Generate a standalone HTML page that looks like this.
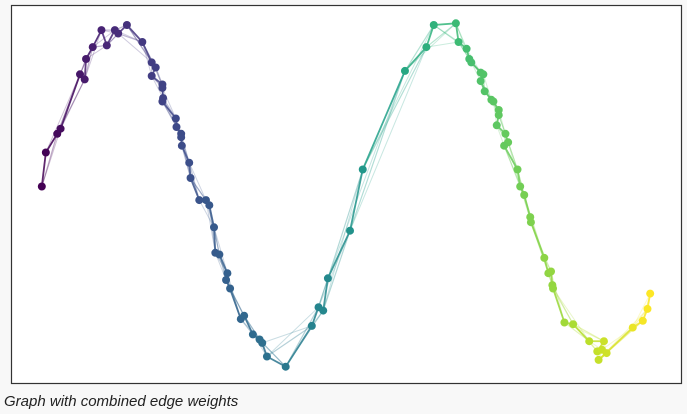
<!DOCTYPE html>
<html><head><meta charset="utf-8">
<style>
html,body{margin:0;padding:0;background:#f8f8f8;width:687px;height:414px;overflow:hidden}
#chart{position:absolute;left:0;top:0}
.cap{position:absolute;left:4px;top:393px;font:italic 15px "Liberation Sans",sans-serif;color:#222}
</style></head><body>
<svg id="chart" width="687" height="390">
<rect x="11.5" y="5.5" width="670" height="378" fill="#fff" stroke="#333" stroke-width="1.2"/>
<g id="edges"></g>
<g id="nodes"></g>
</svg>
<div class="cap">Graph with combined edge weights</div>
<script>
const nodeX=[0.46,0.52,0.69,0.74,1.03,1.10,1.12,1.22,1.35,1.43,1.55,1.60,1.73,1.96,2.10,2.16,2.10,2.26,2.26,2.27,2.26,2.46,2.47,2.54,2.54,2.55,2.66,2.68,2.81,2.91,2.96,3.03,3.05,3.11,3.23,3.21,3.27,3.43,3.48,3.61,3.71,3.75,3.82,4.10,4.49,4.59,4.66,4.73,5.06,5.25,5.88,6.20,6.31,6.64,6.68,6.80,6.84,6.87,7.01,7.05,7.01,7.07,7.17,7.20,7.28,7.28,7.25,7.38,7.42,7.36,7.56,7.60,7.66,7.75,7.76,7.96,8.02,8.06,8.08,8.09,8.26,8.39,8.63,8.85,8.75,8.82,8.89,8.77,9.28,9.43,9.50,9.54];
const nodeY=[0.05,0.25,0.36,0.39,0.71,0.68,0.80,0.87,0.97,0.88,0.97,0.95,1.00,0.90,0.78,0.75,0.70,0.65,0.63,0.57,0.55,0.45,0.40,0.36,0.34,0.29,0.19,0.10,-0.03,-0.03,-0.06,-0.19,-0.34,-0.35,-0.46,-0.50,-0.55,-0.73,-0.71,-0.82,-0.85,-0.87,-0.95,-1.01,-0.77,-0.66,-0.68,-0.49,-0.21,0.15,0.73,0.87,1.00,1.01,0.90,0.86,0.80,0.78,0.72,0.71,0.67,0.61,0.56,0.55,0.50,0.47,0.41,0.36,0.31,0.29,0.15,0.05,0.00,-0.13,-0.16,-0.37,-0.46,-0.45,-0.53,-0.55,-0.75,-0.76,-0.86,-0.86,-0.92,-0.91,-0.93,-0.97,-0.78,-0.74,-0.67,-0.58];
const xs=x=>11+x*67, ys=y=>195-y*170;
const xmin=Math.min(...nodeX), xmax=Math.max(...nodeX);
const vir=[[68,1,84],[72,40,120],[62,74,137],[49,104,142],[38,130,142],[31,158,137],[53,183,121],[109,205,89],[180,222,44],[253,231,37]];
function col(x){const t=(x-xmin)/(xmax-xmin);const p=t*(vir.length-1),i=Math.min(Math.floor(p),vir.length-2),f=p-i;const c=vir[i].map((v,k)=>Math.round(v+(vir[i+1][k]-v)*f));return `rgb(${c})`;}
const NS='http://www.w3.org/2000/svg',E=document.getElementById('edges'),N=document.getElementById('nodes');
const n=nodeX.length;
for(const [off,w,op] of [[3,1,0.25],[2,1.2,0.35],[1,1.8,0.85]]){
 for(let i=0;i+off<n;i++){
  const l=document.createElementNS(NS,'line');
  
  
  l.setAttribute('x1',xs(nodeX[i]));l.setAttribute('y1',ys(nodeY[i]));
  l.setAttribute('x2',xs(nodeX[i+off]));l.setAttribute('y2',ys(nodeY[i+off]));
  l.setAttribute('stroke',col((nodeX[i]+nodeX[i+off])/2));l.setAttribute('stroke-width',w);l.setAttribute('stroke-opacity',op);
  E.appendChild(l);
 }
}
for(let i=0;i<n;i++){
 const c=document.createElementNS(NS,'circle');
 
 
 c.setAttribute('cx',xs(nodeX[i]));c.setAttribute('cy',ys(nodeY[i]));c.setAttribute('r',4);
 c.setAttribute('fill',col(nodeX[i]));
 N.appendChild(c);
}
</script>
</body></html>
